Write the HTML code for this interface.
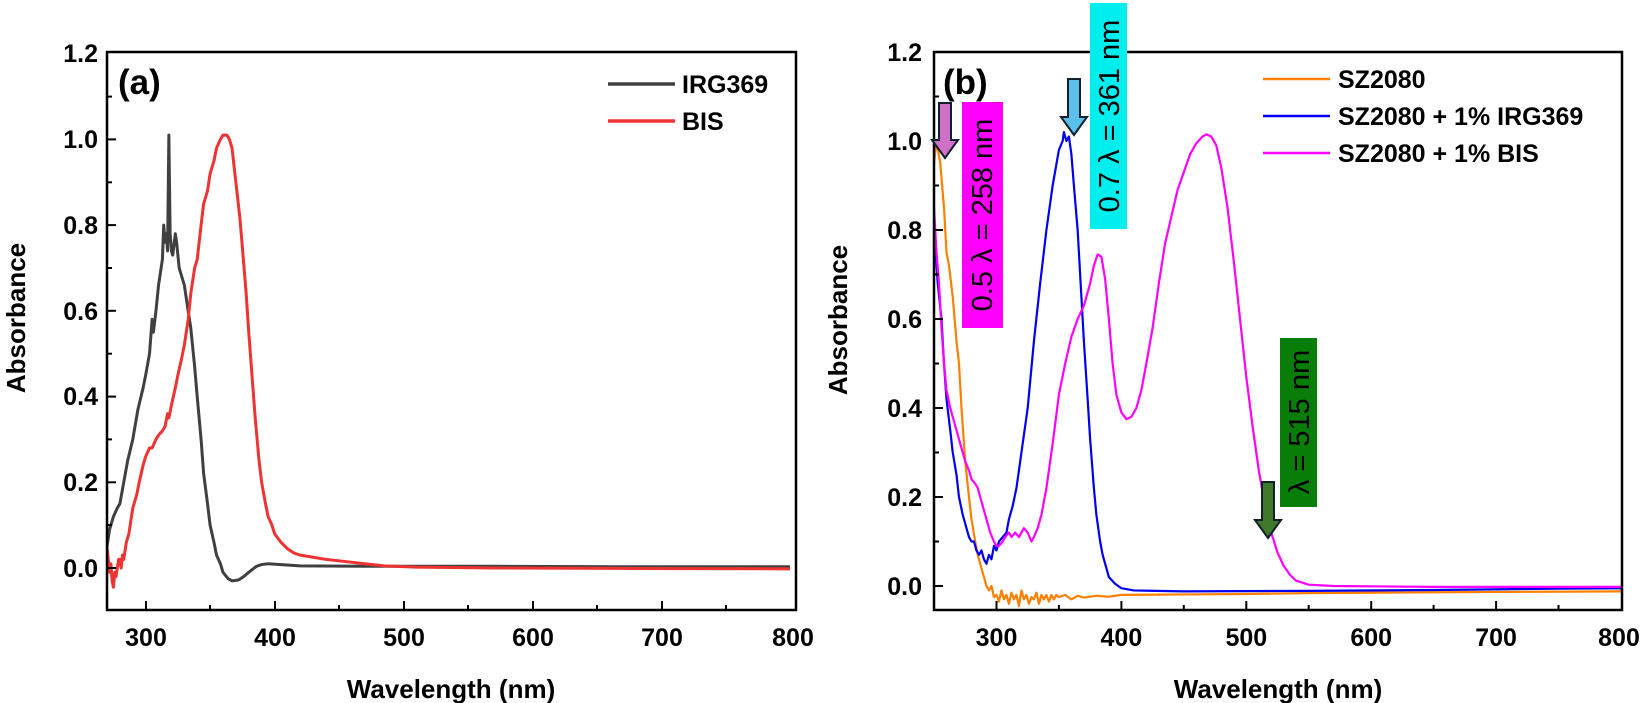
<!DOCTYPE html>
<html><head><meta charset="utf-8"><style>
html,body{margin:0;padding:0;background:#fff;}
svg{display:block;font-family:"Liberation Sans",Arial,sans-serif;}
.t{font-size:25px;font-weight:bold;fill:#000;}
.ax{font-size:26px;font-weight:bold;fill:#000;}
.ln{fill:none;stroke-linejoin:round;vector-effect:non-scaling-stroke;}
</style></head><body>
<svg width="1647" height="703" viewBox="0 0 1647 703" xmlns="http://www.w3.org/2000/svg">
<rect width="1647" height="703" fill="#fff"/>

<!-- ===== LEFT PLOT ===== -->
<g clip-path="url(#cl)">
<clipPath id="cl"><rect x="107" y="52" width="689" height="558"/></clipPath>
<g transform="translate(107,568) scale(1.2887,-428.6)">
<polyline class="ln" stroke="#404040" stroke-width="3" points="0,0.05 2,0.09 5,0.12 8,0.14 10,0.15 13,0.2 16,0.25 20,0.3 24,0.37 28,0.42 30,0.45 33,0.5 35,0.58 36,0.55 38,0.6 40,0.66 43,0.72 44,0.8 45,0.76 46,0.78 47,0.74 48,1.01 49,0.78 50,0.74 51,0.73 53,0.78 54,0.76 56,0.7 60,0.66 63,0.6 65,0.56 68,0.47 70,0.4 73,0.3 75,0.22 78,0.15 80,0.1 83,0.06 85,0.03 88,0.01 90,-0.01 94,-0.025 97,-0.03 102,-0.028 106,-0.02 110,-0.01 116,0.004 120,0.008 125,0.01 135,0.008 150,0.005 200,0.004 300,0.004 400,0.003 530,0.003"/>
<polyline class="ln" stroke="#ee3333" stroke-width="3" points="0,0.05 1,0.02 2,-0.01 3,0.01 4,-0.03 5,-0.045 6,-0.01 7,-0.02 8,0.0 9,0.02 10,0.02 11,0.0 12,0.03 13,0.02 15,0.06 17,0.08 20,0.14 23,0.17 25,0.2 28,0.24 30,0.26 33,0.28 35,0.28 38,0.3 40,0.31 43,0.32 45,0.33 47,0.36 48,0.35 50,0.38 53,0.42 55,0.45 58,0.49 60,0.52 63,0.58 65,0.64 68,0.7 70,0.72 73,0.8 75,0.85 78,0.88 80,0.92 83,0.95 85,0.98 88,1.0 90,1.01 93,1.01 95,1.0 97,0.98 100,0.9 103,0.82 105,0.75 108,0.64 110,0.55 113,0.43 115,0.35 118,0.25 120,0.2 123,0.15 125,0.12 128,0.1 130,0.08 135,0.06 140,0.045 145,0.035 150,0.03 160,0.025 170,0.02 185,0.015 200,0.01 215,0.005 240,0.002 300,0.0 400,-0.001 530,-0.002"/>
</g>
</g>
<rect x="107" y="52" width="689" height="558" fill="none" stroke="#000" stroke-width="2.5"/>
<g stroke="#000" stroke-width="2">
<line x1="107" y1="568" x2="116" y2="568"/><line x1="107" y1="482.3" x2="116" y2="482.3"/><line x1="107" y1="396.6" x2="116" y2="396.6"/><line x1="107" y1="310.8" x2="116" y2="310.8"/><line x1="107" y1="225.1" x2="116" y2="225.1"/><line x1="107" y1="139.4" x2="116" y2="139.4"/>
<line x1="107" y1="525.1" x2="112" y2="525.1"/><line x1="107" y1="439.4" x2="112" y2="439.4"/><line x1="107" y1="353.7" x2="112" y2="353.7"/><line x1="107" y1="268" x2="112" y2="268"/><line x1="107" y1="182.3" x2="112" y2="182.3"/><line x1="107" y1="96.6" x2="112" y2="96.6"/>
<line x1="146" y1="610" x2="146" y2="601"/><line x1="275" y1="610" x2="275" y2="601"/><line x1="404" y1="610" x2="404" y2="601"/><line x1="533" y1="610" x2="533" y2="601"/><line x1="662" y1="610" x2="662" y2="601"/>
<line x1="210" y1="610" x2="210" y2="605"/><line x1="339" y1="610" x2="339" y2="605"/><line x1="468" y1="610" x2="468" y2="605"/><line x1="597" y1="610" x2="597" y2="605"/><line x1="726" y1="610" x2="726" y2="605"/>
</g>
<g class="t" text-anchor="end">
<text x="98" y="577">0.0</text><text x="98" y="491">0.2</text><text x="98" y="405">0.4</text><text x="98" y="320">0.6</text><text x="98" y="234">0.8</text><text x="98" y="148">1.0</text><text x="98" y="62">1.2</text>
</g>
<g class="t" text-anchor="middle">
<text x="146" y="646">300</text><text x="275" y="646">400</text><text x="404" y="646">500</text><text x="533" y="646">600</text><text x="662" y="646">700</text><text x="793" y="646">800</text>
</g>
<g class="ax" text-anchor="middle">
<text x="451" y="698">Wavelength (nm)</text>
<text transform="translate(25,318) rotate(-90)">Absorbance</text>
</g>
<text x="118" y="94" style="font-size:35px;font-weight:bold">(a)</text>
<line x1="608" y1="84" x2="675" y2="84" stroke="#404040" stroke-width="3.5"/>
<line x1="608" y1="121" x2="675" y2="121" stroke="#ee3333" stroke-width="3.5"/>
<text class="t" x="682" y="93">IRG369</text>
<text class="t" x="682" y="130">BIS</text>

<!-- ===== RIGHT PLOT ===== -->
<g clip-path="url(#cr)">
<clipPath id="cr"><rect x="934" y="52" width="688" height="558"/></clipPath>
<g transform="translate(934,586) scale(1.2491,-445)">
<polyline class="ln" stroke="#ff8000" stroke-width="2.2" points="0,0.95 2,1.0 5,0.95 8,0.85 10,0.75 12,0.72 15,0.65 18,0.55 20,0.5 22,0.4 25,0.28 28,0.2 30,0.15 33,0.1 35,0.07 37,0.05 40,0.02 42,0.0 44,-0.01 46,0.0 48,-0.025 50,-0.02 52,-0.035 54,-0.01 56,-0.03 58,-0.02 60,-0.04 62,-0.015 64,-0.03 66,-0.02 68,-0.045 70,-0.01 72,-0.03 74,-0.02 76,-0.04 78,-0.025 80,-0.03 82,-0.015 84,-0.04 86,-0.02 88,-0.03 90,-0.02 92,-0.035 94,-0.02 96,-0.03 98,-0.02 100,-0.025 105,-0.02 110,-0.03 115,-0.022 120,-0.026 130,-0.022 140,-0.024 150,-0.02 200,-0.019 250,-0.018 300,-0.016 400,-0.014 550,-0.012"/>
<polyline class="ln" stroke="#0000ee" stroke-width="2.2" points="0,0.8 3,0.68 6,0.6 8,0.5 10,0.42 13,0.35 15,0.3 18,0.25 20,0.2 23,0.16 25,0.14 28,0.11 30,0.1 32,0.1 34,0.08 36,0.07 38,0.08 40,0.06 42,0.05 44,0.07 46,0.06 48,0.09 50,0.08 52,0.1 55,0.11 58,0.12 60,0.15 63,0.18 66,0.22 70,0.3 75,0.4 80,0.55 85,0.68 90,0.8 95,0.9 100,0.98 103,1.0 104,1.02 106,1.0 108,1.01 110,0.97 112,0.9 115,0.8 118,0.65 120,0.55 123,0.42 125,0.33 128,0.22 130,0.16 133,0.1 135,0.07 138,0.04 140,0.02 145,0.005 150,-0.005 160,-0.01 200,-0.012 300,-0.011 400,-0.009 500,-0.006 550,-0.005"/>
<polyline class="ln" stroke="#ff00ff" stroke-width="2.2" points="0,0.85 2,0.75 4,0.68 6,0.58 8,0.5 10,0.44 13,0.4 15,0.38 18,0.35 20,0.33 23,0.3 25,0.28 28,0.26 30,0.24 33,0.23 35,0.22 38,0.19 40,0.17 43,0.14 45,0.12 48,0.1 50,0.09 52,0.09 55,0.1 57,0.11 60,0.12 62,0.11 65,0.12 68,0.11 70,0.12 72,0.13 75,0.12 78,0.1 80,0.11 83,0.13 86,0.16 90,0.22 95,0.32 100,0.43 105,0.5 110,0.56 115,0.6 120,0.63 125,0.68 128,0.72 131,0.745 134,0.74 137,0.69 140,0.6 143,0.5 146,0.43 150,0.39 154,0.375 158,0.38 162,0.4 166,0.44 170,0.5 175,0.58 180,0.68 185,0.77 190,0.83 195,0.89 200,0.93 205,0.97 210,0.995 215,1.01 218,1.015 222,1.01 226,0.99 230,0.94 235,0.85 240,0.73 245,0.6 250,0.47 255,0.36 260,0.26 265,0.18 270,0.12 275,0.075 280,0.045 285,0.025 290,0.012 300,0.003 320,0.0 400,-0.002 550,-0.002"/>
</g>
</g>
<rect x="934" y="52" width="688" height="558" fill="none" stroke="#000" stroke-width="2.5"/>
<g stroke="#000" stroke-width="2">
<line x1="934" y1="586" x2="943" y2="586"/><line x1="934" y1="497" x2="943" y2="497"/><line x1="934" y1="408" x2="943" y2="408"/><line x1="934" y1="319" x2="943" y2="319"/><line x1="934" y1="230" x2="943" y2="230"/><line x1="934" y1="141" x2="943" y2="141"/>
<line x1="934" y1="541.5" x2="939" y2="541.5"/><line x1="934" y1="452.5" x2="939" y2="452.5"/><line x1="934" y1="363.5" x2="939" y2="363.5"/><line x1="934" y1="274.5" x2="939" y2="274.5"/><line x1="934" y1="185.5" x2="939" y2="185.5"/><line x1="934" y1="96.5" x2="939" y2="96.5"/>
<line x1="996.5" y1="610" x2="996.5" y2="601"/><line x1="1121.4" y1="610" x2="1121.4" y2="601"/><line x1="1246.3" y1="610" x2="1246.3" y2="601"/><line x1="1371.2" y1="610" x2="1371.2" y2="601"/><line x1="1496.1" y1="610" x2="1496.1" y2="601"/>
<line x1="1058.9" y1="610" x2="1058.9" y2="605"/><line x1="1183.8" y1="610" x2="1183.8" y2="605"/><line x1="1308.7" y1="610" x2="1308.7" y2="605"/><line x1="1433.6" y1="610" x2="1433.6" y2="605"/><line x1="1558.5" y1="610" x2="1558.5" y2="605"/>
</g>
<g class="t" text-anchor="end">
<text x="922" y="595">0.0</text><text x="922" y="506">0.2</text><text x="922" y="417">0.4</text><text x="922" y="328">0.6</text><text x="922" y="239">0.8</text><text x="922" y="150">1.0</text><text x="922" y="61">1.2</text>
</g>
<g class="t" text-anchor="middle">
<text x="996.5" y="646">300</text><text x="1121.4" y="646">400</text><text x="1246.3" y="646">500</text><text x="1371.2" y="646">600</text><text x="1496.1" y="646">700</text><text x="1619" y="646">800</text>
</g>
<g class="ax" text-anchor="middle">
<text x="1278" y="698">Wavelength (nm)</text>
<text transform="translate(847,320) rotate(-90)">Absorbance</text>
</g>
<text x="943" y="94" style="font-size:35px;font-weight:bold">(b)</text>
<line x1="1263" y1="79" x2="1330" y2="79" stroke="#ff8000" stroke-width="2.5"/>
<line x1="1263" y1="116" x2="1330" y2="116" stroke="#0000ee" stroke-width="2.5"/>
<line x1="1263" y1="153" x2="1330" y2="153" stroke="#ff00ff" stroke-width="2.5"/>
<text class="t" x="1338" y="88">SZ2080</text>
<text class="t" x="1338" y="125">SZ2080 + 1% IRG369</text>
<text class="t" x="1338" y="162">SZ2080 + 1% BIS</text>

<!-- annotations -->
<rect x="962" y="102" width="41" height="226" fill="#ff00ff"/>
<text transform="translate(992,215) rotate(-90)" text-anchor="middle" style="font-size:29px;fill:#000">0.5 λ = 258 nm</text>
<rect x="1090" y="3" width="37" height="226" fill="#00eeee"/>
<text transform="translate(1119,116) rotate(-90)" text-anchor="middle" style="font-size:29px;fill:#000">0.7 λ = 361 nm</text>
<rect x="1280" y="338" width="37" height="169" fill="#087d08"/>
<text transform="translate(1309,422) rotate(-90)" text-anchor="middle" style="font-size:29px;fill:#000">λ = 515 nm</text>
<polygon points="939,103 951,103 951,140 958,140 945,158 932,140 939,140" fill="#d070c8" stroke="#10202c" stroke-width="2"/>
<polygon points="1068,79 1080,79 1080,117 1087,117 1074,135 1061,117 1068,117" fill="#5bc0eb" stroke="#10202c" stroke-width="2"/>
<polygon points="1262,482 1274,482 1274,520 1281,520 1268,538 1255,520 1262,520" fill="#3f7a2a" stroke="#10202c" stroke-width="2"/>
</svg>
</body></html>
